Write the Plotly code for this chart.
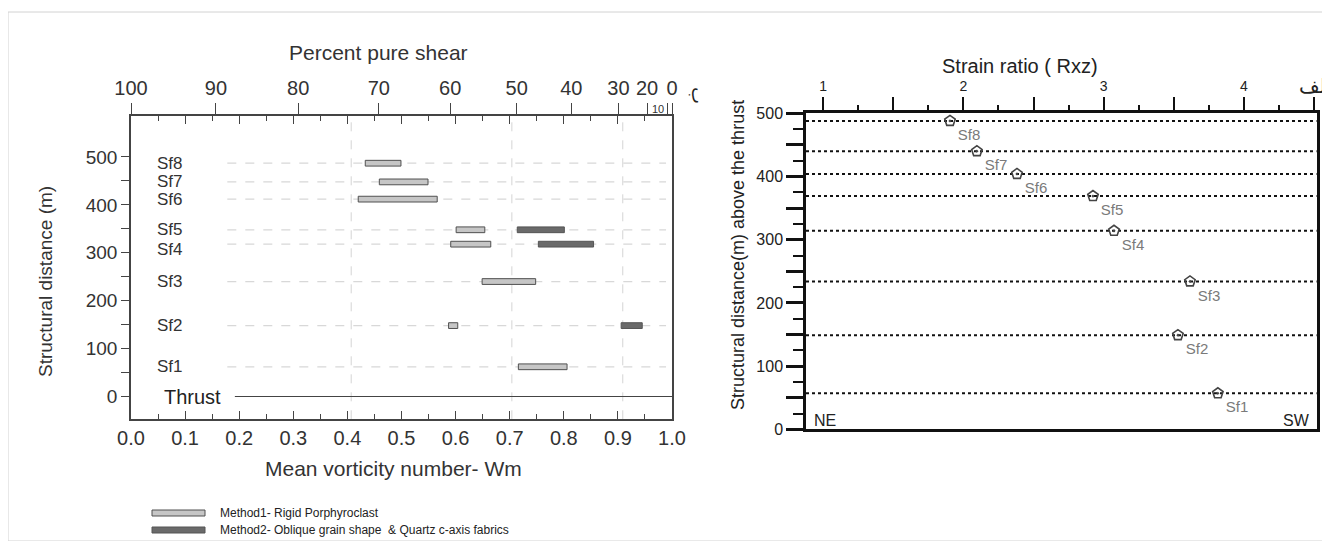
import plotly.graph_objects as go

# page body has an 8px margin: figure is sized to fit and pixel helpers compensate
OFF = 8
W, H = 1330 - OFF, 541 - OFF
def px(x):
    return (x - OFF) / W
def py(y):
    return 1 - (y - OFF) / H

FONT = "Arial, Liberation Sans, sans-serif"

# ---------------- Left chart data (vorticity) ----------------
sf_names = ["Sf1", "Sf2", "Sf3", "Sf4", "Sf5", "Sf6", "Sf7", "Sf8"]
left_levels = [62, 148, 240, 318, 348, 412, 448, 487]

m1_names = ["Sf1", "Sf2", "Sf3", "Sf4", "Sf5", "Sf6", "Sf7", "Sf8"]
m1_start = [0.716, 0.587, 0.649, 0.591, 0.601, 0.420, 0.459, 0.433]
m1_end = [0.806, 0.604, 0.748, 0.665, 0.654, 0.566, 0.549, 0.499]

m2_names = ["Sf2", "Sf4", "Sf5"]
m2_start = [0.906, 0.753, 0.714]
m2_end = [0.945, 0.855, 0.801]

grid_wm = [0.407, 0.704, 0.909]
dash_extent = [0.178, 0.989]
thrust_extent = [0.192, 1.0]

wm_tickvals = [0.0, 0.1, 0.2, 0.3, 0.4, 0.5, 0.6, 0.7, 0.8, 0.9, 1.0]
wm_ticktext = ["0.0", "0.1", "0.2", "0.3", "0.4", "0.5", "0.6", "0.7", "0.8", "0.9", "1.0"]
wm_minor = [0.05, 0.15, 0.25, 0.35, 0.45, 0.55, 0.65, 0.75, 0.85, 0.95]

pct_wm = [0.0, 0.157, 0.309, 0.458, 0.590, 0.713, 0.814, 0.901, 0.954, 0.991, 1.0]
pct_text = ["100", "90", "80", "70", "60", "50", "40", "30", "20", "", "0"]

left_ytick = [0, 100, 200, 300, 400, 500]
left_yminor = [50, 150, 250, 350, 450]

# ---------------- Right chart data (strain ratio) ----------------
right_levels = [57, 149, 234, 314, 369, 404, 440, 488]
rxz = [3.815, 3.53, 3.616, 3.074, 2.924, 2.382, 2.096, 1.904]

rxz_tickvals = [1, 1.5, 2, 2.5, 3, 3.5, 4, 4.5]
rxz_ticktext = ["1", "", "2", "", "3", "", "4", ""]
rxz_minor = [1.25, 1.75, 2.25, 2.75, 3.25, 3.75, 4.25]
right_ytick = [0, 50, 100, 150, 200, 250, 300, 350, 400, 450, 500]
right_ytext = ["0", "", "100", "", "200", "", "300", "", "400", "", "500"]
right_yminor = [25, 75, 125, 175, 225, 275, 325, 375, 425, 475]

LEFT_YR = [-47.6, 586.6]
RIGHT_XR = [0.877, 4.52]

fig = go.Figure()

lev = dict(zip(sf_names, left_levels))
fig.add_trace(go.Bar(orientation="h",
                     y=[lev[n] for n in m1_names],
                     base=m1_start,
                     x=[e - s for s, e in zip(m1_start, m1_end)],
                     width=12,
                     marker=dict(color="#c6c6c6", line=dict(color="#505050", width=1)),
                     showlegend=False, xaxis="x", yaxis="y"))
fig.add_trace(go.Bar(orientation="h",
                     y=[lev[n] for n in m2_names],
                     base=m2_start,
                     x=[e - s for s, e in zip(m2_start, m2_end)],
                     width=12,
                     marker=dict(color="#6a6a6a", line=dict(color="#555555", width=1)),
                     showlegend=False, xaxis="x", yaxis="y"))

# invisible trace on top percent axis
fig.add_trace(go.Scatter(x=[0, 1], y=[-1000, -1000], mode="markers",
                         marker=dict(opacity=0), hoverinfo="skip", showlegend=False,
                         xaxis="x2", yaxis="y"))

# Right chart dotted lines
for lv in right_levels:
    fig.add_trace(go.Scatter(x=RIGHT_XR, y=[lv, lv], mode="lines",
                             line=dict(color="#111", width=2, dash="dot"),
                             hoverinfo="skip", showlegend=False, xaxis="x3", yaxis="y3"))
fig.add_trace(go.Scatter(x=rxz, y=right_levels, mode="markers+text",
                         text=sf_names, textposition="bottom right",
                         textfont=dict(color="#7a7a7a", size=15, family=FONT),
                         marker=dict(symbol="pentagon-open-dot", size=11, color="#444",
                                     line=dict(width=1.6, color="#444")),
                         showlegend=False, xaxis="x3", yaxis="y3"))

fig.update_layout(
    width=W, height=H, autosize=False,
    margin=dict(l=0, r=0, t=0, b=0, pad=0),
    paper_bgcolor="white", plot_bgcolor="rgba(0,0,0,0)",
    barmode="overlay",
    font=dict(family=FONT, color="#333"),
    xaxis=dict(domain=[px(131), px(672)], range=[0, 1], anchor="y", automargin=False,
               tickmode="array", tickvals=wm_tickvals, ticktext=wm_ticktext,
               ticks="inside", ticklen=9, tickwidth=1, tickcolor="#444",
               minor=dict(tickmode="array", tickvals=wm_minor, ticks="inside", ticklen=6,
                          tickcolor="#444", tickwidth=1),
               showline=True, linecolor="#444", linewidth=1.5, mirror="ticks",
               showgrid=False, zeroline=False, tickfont=dict(size=20, color="#333")),
    xaxis2=dict(domain=[px(131), px(672)], range=[0, 1], anchor="y", overlaying="x",
                automargin=False,
                side="top", tickmode="array", tickvals=pct_wm, ticktext=pct_text,
                ticks="outside", ticklen=12, tickwidth=1, tickcolor="#444",
                showline=False, showgrid=False, zeroline=False,
                tickfont=dict(size=20, color="#333")),
    yaxis=dict(domain=[py(419.3), py(115.5)], range=LEFT_YR, anchor="x", automargin=False,
               tickmode="array", tickvals=left_ytick,
               ticks="outside", ticklen=8, tickwidth=1, tickcolor="#444",
               minor=dict(tickmode="array", tickvals=left_yminor, ticks="outside", ticklen=8,
                          tickcolor="#444", tickwidth=1),
               showline=True, linecolor="#444", linewidth=1.5, mirror=True,
               showgrid=False, zeroline=False, tickfont=dict(size=19, color="#333")),
    xaxis3=dict(domain=[px(806), px(1316.7)], range=RIGHT_XR, anchor="y3", side="top",
                automargin=False,
                tickmode="array", tickvals=rxz_tickvals, ticktext=rxz_ticktext,
                ticks="outside", ticklen=14, tickwidth=2, tickcolor="#111",
                minor=dict(tickmode="array", tickvals=rxz_minor, ticks="outside", ticklen=6,
                           tickcolor="#111", tickwidth=2),
                showline=True, linecolor="#111", linewidth=2.5, mirror=True,
                showgrid=False, zeroline=False, tickfont=dict(size=14, color="#222")),
    yaxis3=dict(domain=[py(429.3), py(113.3)], range=[0, 500], anchor="x3", automargin=False,
                tickmode="array", tickvals=right_ytick, ticktext=right_ytext,
                ticks="outside", ticklen=17, tickwidth=2.5, tickcolor="#111",
                minor=dict(tickmode="array", tickvals=right_yminor, ticks="outside", ticklen=10,
                           tickcolor="#111", tickwidth=2),
                showline=True, linecolor="#111", linewidth=2.5, mirror=True,
                showgrid=False, zeroline=False, tickfont=dict(size=16, color="#222")),
)

ann = []
def A(text, x, y, size, xanchor="center", yanchor="middle", **kw):
    d = dict(text=text, x=px(x), y=py(y), xref="paper", yref="paper", showarrow=False,
             xanchor=xanchor, yanchor=yanchor,
             font=dict(size=size, family=kw.pop("family", FONT), color=kw.pop("color", "#333")))
    d.update(kw)
    ann.append(d)

A("Percent pure shear", 378, 53, 21)
A("10", 658, 109, 11)
A("Mean vorticity number- Wm", 393, 468, 21)
A("Structural distance (m)", 45, 282, 19, textangle=-90)
for n, lv in zip(sf_names, left_levels):
    ann.append(dict(text=n, x=0.045, y=lv, xref="x", yref="y", xanchor="left", yanchor="middle",
                    showarrow=False, yshift=(-5 if n == "Sf4" else 0),
                    font=dict(size=17, family=FONT, color="#333")))
ann.append(dict(text="Thrust", x=0.058, y=0, xref="x", yref="y", xanchor="left", yanchor="middle",
                showarrow=False, font=dict(size=20, family=FONT, color="#222")))

A("Method1- Rigid Porphyroclast", 218, 513, 12, xanchor="left", color="#222")
A("Method2- Oblique grain shape  & Quartz c-axis fabrics", 218, 530, 12, xanchor="left", color="#222")

A("Strain ratio ( Rxz)", 1020, 66, 20, color="#222")
A("Structural distance(m) above the thrust", 738, 255, 18, textangle=-90, color="#222")
A("NE", 812, 420, 16, xanchor="left", color="#222")
A("SW", 1312, 420, 16, xanchor="right", color="#222")
A("ب", 698, 95, 18, textangle=90, family="DejaVu Sans", color="#222")
A("الف", 1333, 86, 20, xanchor="right", family="DejaVu Sans", color="#222")

fig.update_layout(annotations=ann)

shapes = [
    dict(type="rect", xref="paper", yref="paper", x0=px(8), x1=1.0, y0=0.0, y1=py(12),
         line=dict(color="#d2d2d2", width=1), fillcolor="rgba(0,0,0,0)", layer="below"),
    dict(type="rect", xref="paper", yref="paper", x0=px(152), x1=px(205), y0=py(516), y1=py(510),
         line=dict(color="#505050", width=1), fillcolor="#c6c6c6"),
    dict(type="rect", xref="paper", yref="paper", x0=px(152), x1=px(205), y0=py(533), y1=py(527),
         line=dict(color="#555", width=1), fillcolor="#6a6a6a"),
]
for g in grid_wm:
    shapes.append(dict(type="line", xref="x", yref="y", x0=g, x1=g, y0=LEFT_YR[0], y1=LEFT_YR[1],
                       line=dict(color="#d4d4d4", width=1, dash="dash"), layer="below"))
for lv in left_levels:
    shapes.append(dict(type="line", xref="x", yref="y", x0=dash_extent[0], x1=dash_extent[1],
                       y0=lv, y1=lv, line=dict(color="#d8d8d8", width=1.2, dash="dash"),
                       layer="below"))
shapes.append(dict(type="line", xref="x", yref="y", x0=thrust_extent[0], x1=thrust_extent[1],
                   y0=0, y1=0, line=dict(color="#444", width=1), layer="below"))
fig.update_layout(shapes=shapes)

fig.write_html("out.html")
